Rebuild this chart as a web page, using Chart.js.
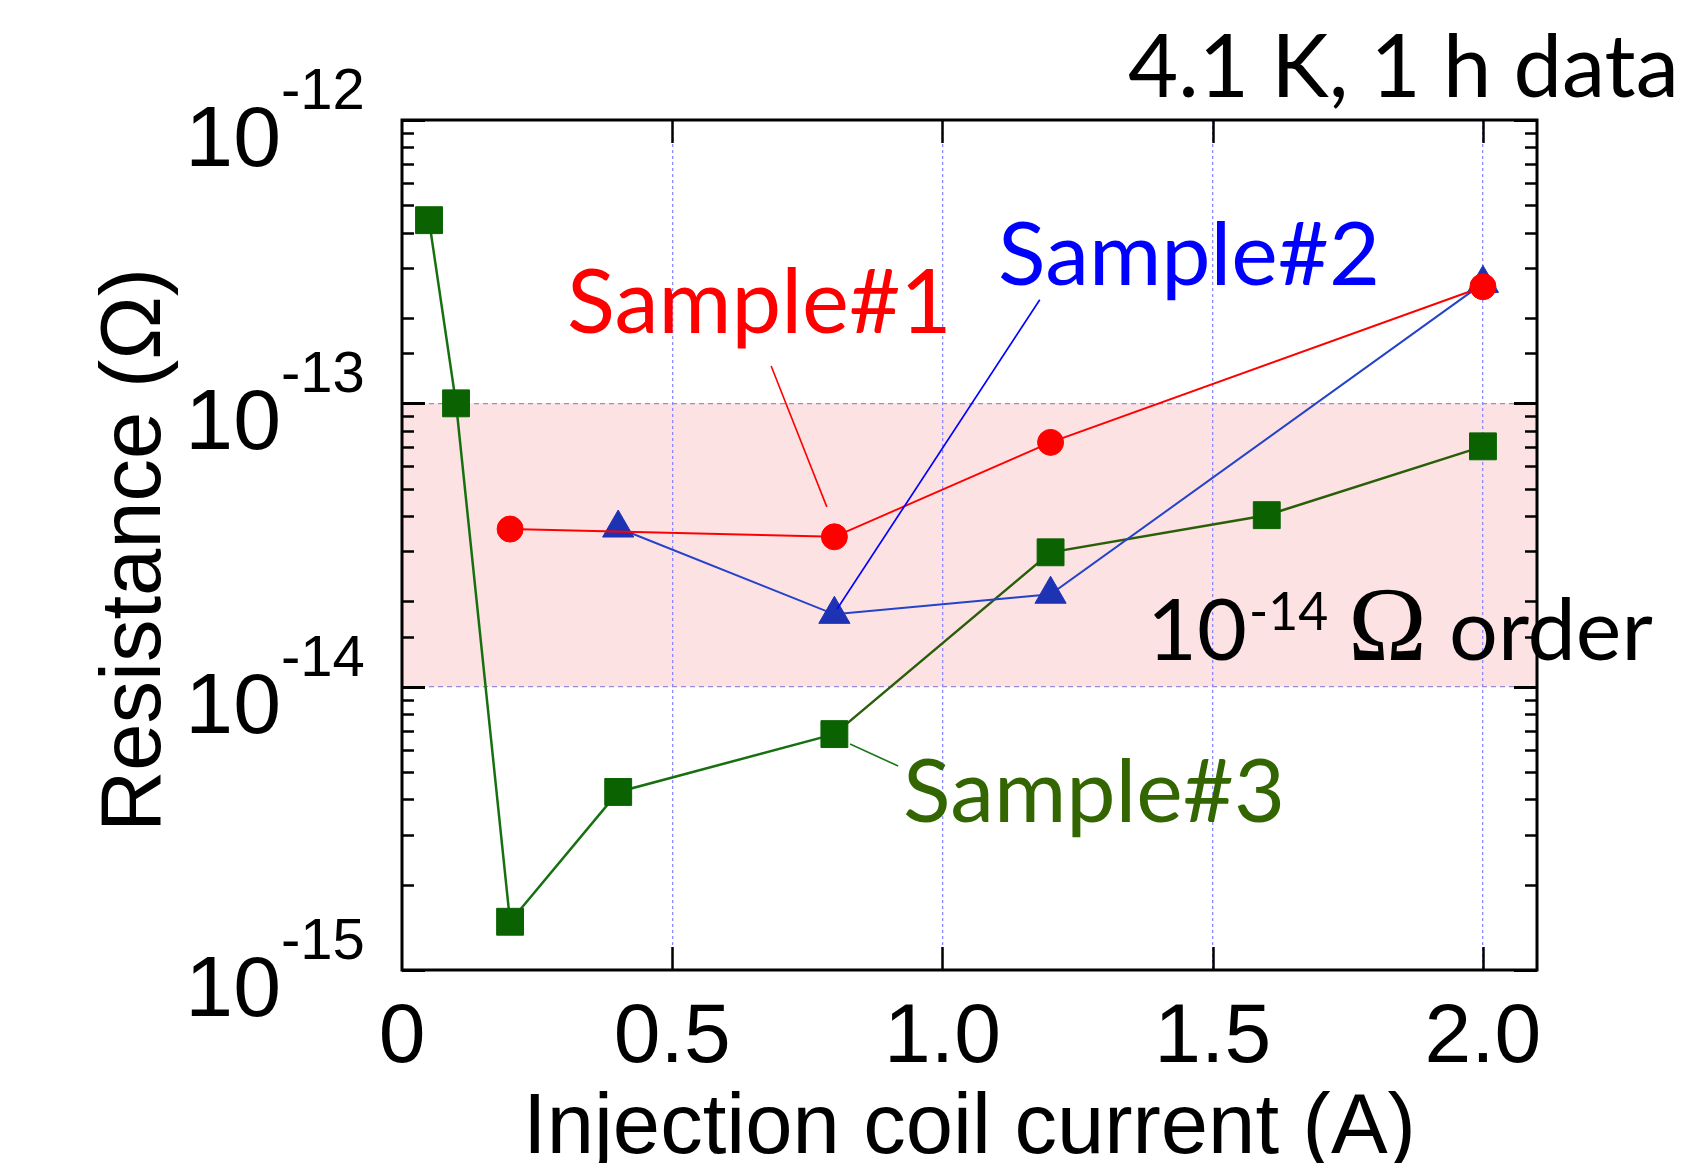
<!DOCTYPE html>
<html><head><meta charset="utf-8">
<script src="https://cdn.jsdelivr.net/npm/chart.js@4.4.0/dist/chart.umd.min.js"></script>
<style>html,body{margin:0;padding:0;background:#fff;} canvas{display:block;}</style>
</head><body>
<canvas id="c" width="1700" height="1163"></canvas>
<script>
// ---- data ----
const current1 = [0.2, 0.8, 1.2, 2.0];
const sample1  = [3.6e-14, 3.38e-14, 7.28e-14, 2.58e-13];
const current2 = [0.4, 0.8, 1.2, 2.0];
const sample2  = [3.63e-14, 1.8e-14, 2.12e-14, 2.65e-13];
const current3 = [0.05, 0.1, 0.2, 0.4, 0.8, 1.2, 1.6, 2.0];
const sample3  = [4.43e-13, 1.0e-13, 1.48e-15, 4.25e-15, 6.8e-15, 2.98e-14, 4.03e-14, 7.05e-14];
const seriesNames = ['Sample#1', 'Sample#2', 'Sample#3'];
const xTickLabels = ['0', '0.5', '1.0', '1.5', '2.0'];
const bandRange = [1e-14, 1e-13];
const xTitle = 'Injection coil current (A)';
const yTitle = 'Resistance (\u03A9)';
const noteText = '4.1 K, 1 h data';
// leader lines in data coordinates [x1, y1, x2, y2]
const leader1 = [0.683, 1.355e-13, 0.786, 4.31e-14];
const leader2 = [1.180, 2.32e-13, 0.805, 1.88e-14];
const leader3 = [0.829, 6.28e-15, 0.918, 5.25e-15];

const SANS = '"Liberation Sans", Arial, sans-serif';
const CAL = 'Lato, "Open Sans", sans-serif';
const SERIF = '"Liberation Serif", "DejaVu Serif", serif';

function pts(xs, ys) { return xs.map((x, i) => ({x, y: ys[i]})); }
function isDecade(v) { const l = Math.log10(v); return Math.abs(l - Math.round(l)) < 1e-6; }

function fitText(ctx, text, left, right, base, family, color) {
  ctx.textAlign = 'left'; ctx.textBaseline = 'alphabetic';
  ctx.font = '100px ' + family;
  const m = ctx.measureText(text);
  const inkW = m.actualBoundingBoxRight + m.actualBoundingBoxLeft;
  const size = 100 * (right - left) / inkW;
  ctx.font = size + 'px ' + family;
  const m2 = ctx.measureText(text);
  ctx.fillStyle = color;
  ctx.fillText(text, left + m2.actualBoundingBoxLeft, base);
  return size;
}
function inkText(ctx, text, left, base, font, color) {
  ctx.textAlign = 'left'; ctx.textBaseline = 'alphabetic';
  ctx.font = font;
  const m = ctx.measureText(text);
  ctx.fillStyle = color;
  ctx.fillText(text, left + m.actualBoundingBoxLeft, base);
}

const decor = {
  id: 'decor',
  beforeDraw(chart) {
    const {ctx, chartArea: a, scales: {y}} = chart;
    ctx.save();
    ctx.fillStyle = '#ffffff';
    ctx.fillRect(0, 0, chart.width, chart.height);
    const yt = y.getPixelForValue(bandRange[1]);
    const yb = y.getPixelForValue(bandRange[0]);
    ctx.fillStyle = '#fde2e4';
    ctx.fillRect(a.left, yt, a.right - a.left, yb - yt);
    ctx.restore();
  },
  afterDraw(chart) {
    const {ctx, chartArea: a, scales: {x, y}} = chart;
    ctx.save();
    // frame
    ctx.strokeStyle = '#000'; ctx.lineWidth = 3;
    ctx.strokeRect(a.left, a.top, a.right - a.left, a.bottom - a.top);
    // y ticks (both sides, inward)
    y.ticks.forEach(t => {
      const py = Math.round(y.getPixelForValue(t.value)) + 0.5;
      const major = isDecade(t.value);
      const len = major ? 23 : 12;
      ctx.lineWidth = major ? 3 : 2.5;
      ctx.beginPath();
      ctx.moveTo(a.left, py); ctx.lineTo(a.left + len, py);
      ctx.moveTo(a.right, py); ctx.lineTo(a.right - len, py);
      ctx.stroke();
    });
    // x ticks (bottom and top, inward)
    ctx.lineWidth = 2.5;
    x.ticks.forEach(t => {
      if (t.value === 0) return;
      const px = Math.round(x.getPixelForValue(t.value)) + 0.5;
      ctx.beginPath();
      ctx.moveTo(px, a.bottom); ctx.lineTo(px, a.bottom - 23);
      ctx.moveTo(px, a.top); ctx.lineTo(px, a.top + 23);
      ctx.stroke();
    });
    // x tick labels
    ctx.fillStyle = '#000';
    ctx.font = '84px ' + SANS;
    ctx.textAlign = 'center'; ctx.textBaseline = 'alphabetic';
    x.ticks.forEach((t, i) => {
      ctx.fillText(xTickLabels[i], x.getPixelForValue(t.value), a.bottom + 92);
    });
    // y tick labels 10^n
    y.ticks.forEach(t => {
      if (!isDecade(t.value)) return;
      const e = Math.round(Math.log10(t.value));
      const py = y.getPixelForValue(t.value);
      ctx.font = '86px ' + SANS; ctx.textAlign = 'right';
      ctx.fillText('10', a.left - 121, py + 46);
      ctx.font = '58px ' + SANS; ctx.textAlign = 'left';
      ctx.fillText(String(e), a.left - 121, py - 11);
    });
    // axis titles
    ctx.font = '85px ' + SANS; ctx.textAlign = 'center';
    ctx.fillText(xTitle, (a.left + a.right) / 2, a.bottom + 183);
    ctx.save();
    ctx.translate(160, (a.top + a.bottom) / 2 + 5);
    ctx.rotate(-Math.PI / 2);
    ctx.fillText(yTitle, 0, 0);
    ctx.restore();

    // leader lines
    const leaders = [[leader1, '#ff0000'], [leader2, '#0000ff'], [leader3, '#1a7a1a']];
    ctx.lineWidth = 1.6;
    leaders.forEach(([l, c]) => {
      ctx.strokeStyle = c;
      ctx.beginPath();
      ctx.moveTo(x.getPixelForValue(l[0]), y.getPixelForValue(l[1]));
      ctx.lineTo(x.getPixelForValue(l[2]), y.getPixelForValue(l[3]));
      ctx.stroke();
    });

    // series labels
    fitText(ctx, seriesNames[0], 569, 945, 333, CAL, '#ff0000');
    fitText(ctx, seriesNames[1], 1000, 1375, 285, CAL, '#0000ff');
    fitText(ctx, seriesNames[2], 905, 1280, 822, CAL, '#336600');
    fitText(ctx, noteText, 1129, 1674, 97, CAL, '#000000');

    // 10^-14 Ω order
    const sz = fitText(ctx, 'order', 1452, 1652, 660, CAL, '#000000');
    inkText(ctx, '10', 1154, 660, sz + 'px ' + CAL, '#000');
    inkText(ctx, '-14', 1252, 630, (sz * 0.6) + 'px ' + CAL, '#000');
    fitText(ctx, '\u03A9', 1353, 1422, 660, SERIF, '#000');
    ctx.restore();
  }
};

const chart = new Chart(document.getElementById('c'), {
  type: 'line',
  data: {
    datasets: [
      {label: seriesNames[0], data: pts(current1, sample1), borderColor: '#ff0000', borderWidth: 2,
       pointStyle: 'circle', pointRadius: 13, pointBackgroundColor: '#ff0000', pointBorderColor: '#ff0000', pointBorderWidth: 1, tension: 0, clip: false},
      {label: seriesNames[1], data: pts(current2, sample2), borderColor: '#2443c9', borderWidth: 2,
       pointStyle: 'triangle', pointRadius: 18, pointBackgroundColor: '#1e32b4', pointBorderColor: '#1e32b4', pointBorderWidth: 1, tension: 0, clip: false},
      {label: seriesNames[2], data: pts(current3, sample3), borderColor: '#167010', borderWidth: 2.5,
       pointStyle: 'rect', pointRadius: 19, pointBackgroundColor: '#0a6300', pointBorderColor: '#0a6300', pointBorderWidth: 1, tension: 0, clip: false,
       segment: {borderColor: c => c.p0DataIndex >= 4 ? '#2a5e08' : undefined}}
    ]
  },
  options: {
    responsive: false, animation: false,
    layout: {padding: {left: 402, right: 163, top: 120, bottom: 193}},
    plugins: {legend: {display: false}, tooltip: {enabled: false}},
    scales: {
      x: {type: 'linear', min: 0, max: 2.1,
          ticks: {display: false, stepSize: 0.5, includeBounds: false},
          grid: {drawTicks: false, lineWidth: 1.3,
                 color: c => (c.tick && c.tick.value > 0) ? 'rgba(120,120,255,0.85)' : 'rgba(0,0,0,0)'},
          border: {display: false, dash: [3, 3]},
          afterFit: s => { s.height = 0; }},
      y: {type: 'logarithmic', min: 1e-15, max: 1e-12,
          ticks: {display: false},
          grid: {drawTicks: false, lineWidth: 1.3,
                 color: c => (c.tick && isDecade(c.tick.value) && c.tick.value > 2e-15 && c.tick.value < 5e-13) ? 'rgba(140,130,210,0.9)' : 'rgba(0,0,0,0)'},
          border: {display: false, dash: [5, 4]},
          afterFit: s => { s.width = 0; }}
    }
  },
  plugins: [decor]
});
</script></body></html>
